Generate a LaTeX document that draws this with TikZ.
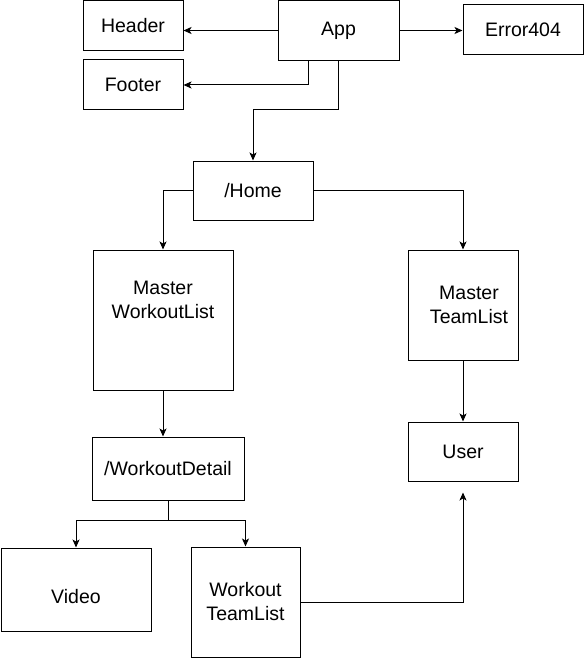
\documentclass[tikz,border=0pt]{standalone}
\usepackage{fontspec}
\setmainfont{Liberation Sans}
\usetikzlibrary{arrows.meta,positioning,calc}
\begin{document}
\begin{tikzpicture}[x=1pt,y=-1pt,
  box/.style={draw=black, line width=1pt, rectangle, inner sep=0pt, fill=white},
  lbl/.style={font=\fontsize{19.5}{24}\selectfont, align=center, inner sep=0pt},
  conn/.style={line width=1pt, -{Stealth[length=8pt,width=7pt,inset=2pt]}}
]
\useasboundingbox[fill=white] (0,0) rectangle (584,658);

\node[box, lbl, minimum width=100, minimum height=50] (header) at (133,25.5) {Header};
\node[box, lbl, minimum width=121, minimum height=60] (app) at (338.5,30.5) {App};
\node[box, lbl, minimum width=120, minimum height=50] (error) at (523,30) {Error404};
\node[box, lbl, minimum width=100, minimum height=50] (footer) at (133,85) {Footer};
\node[box, lbl, minimum width=120, minimum height=59] (home) at (253,190.5) {/Home};

\node[box, minimum width=140, minimum height=140] (mwl) at (163,320) {};
\node[lbl] (mwltext) at ([yshift=20]mwl.center) {Master\\WorkoutList};

\node[box, minimum width=110, minimum height=110] (mtl) at (463,305) {};
\node[lbl] (mtltext) at ([xshift=6]mtl.center) {Master\\TeamList};

\node[box, lbl, minimum width=152, minimum height=63] (wd) at (168,468.5) {/WorkoutDetail};
\node[box, lbl, minimum width=110, minimum height=59] (user) at (463,451.5) {User};

\node[box, minimum width=150, minimum height=83] (video) at (76,589.5) {};
\node[lbl] (videotext) at ([yshift=-7]video.center) {Video};

\node[box, lbl, minimum width=109, minimum height=110] (wtl) at (245.5,602) {Workout\\TeamList};

% connectors
\draw[conn] (app.west) -- (app.west -| header.east);
\draw[conn] (app.east) -- (app.east -| error.west);
\draw[conn] ([xshift=-30.5]app.south) |- (footer.east);
\draw[conn] (app.south) -- ++(0,49) -| (home.north);
\draw[conn] (home.west) -| (mwl.north);
\draw[conn] (home.east) -| (mtl.north);
\draw[conn] (mwl.south) -- (mwl.south |- wd.north);
\draw[conn] (mtl.south) -- (user.north);
\draw[conn] (wd.south) -- ++(0,20) -| (video.north);
\draw[conn] (wd.south) -- ++(0,20) -| (wtl.north);
\draw[conn, shorten >=11pt] (wtl.east) -| (user.south);
\end{tikzpicture}
\end{document}
